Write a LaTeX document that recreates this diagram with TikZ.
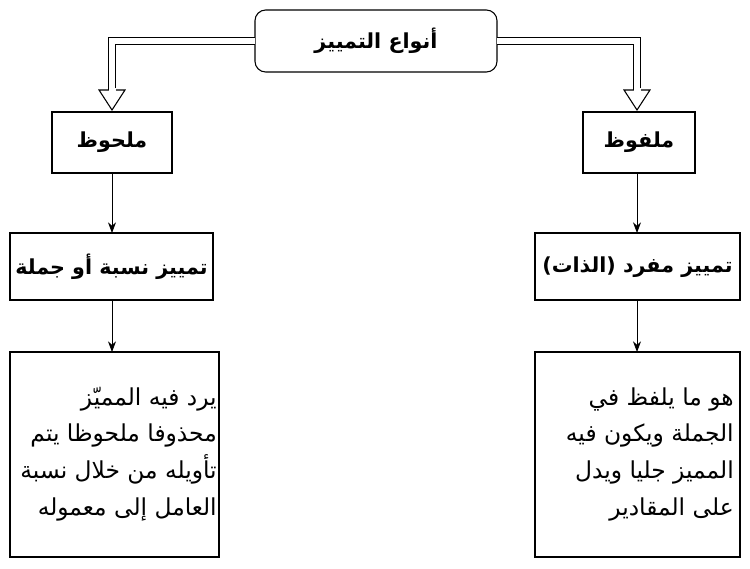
\documentclass[tikz,border=0pt]{standalone}
\usepackage{fontspec}
\newfontfamily\arabicfont[Script=Arabic]{DejaVu Sans}
\TeXXeTstate=1
\usetikzlibrary{arrows.meta}
\begin{document}
\begin{tikzpicture}[x=0.75pt,y=-0.75pt,
  box/.style={draw,line width=0.8pt,inner sep=0pt},
  ttl/.style={font=\arabicfont\bfseries\fontsize{15.5}{18}\selectfont},
  body/.style={font=\arabicfont\fontsize{17.5}{27.5}\selectfont,align=right,anchor=north east,inner sep=0pt},
  dbl/.style={double,double distance=4pt,line width=0.8pt},
  hollow/.style={draw,fill=white,line width=0.8pt},
  sarr/.style={-{Stealth[length=8pt,width=6pt]},line width=0.6pt}]
\useasboundingbox (0,0) rectangle (750,568);
% top
\draw[box,rounded corners=8pt] (255,10) rectangle (497,72);
\node[ttl] (top) at (376,41) {\beginR أنواع التمييز\endR};
% level 1
\draw[box] (52,112) rectangle (172,173); \node[ttl] (l1) at (112,142) {\beginR ملحوظ\endR};
\draw[box] (583,112) rectangle (695,173); \node[ttl] (r1) at (639,142) {\beginR ملفوظ\endR};
% double arrows
\draw[dbl] (255,41) -- (112,41) -- (112,90);
\draw[hollow] (99,90) -- (125,90) -- (112,110) -- cycle;
\draw[fill=white,draw=none] (108.5,88) rectangle (115.5,91);
\draw[dbl] (497,41) -- (637,41) -- (637,90);
\draw[hollow] (624,90) -- (650,90) -- (637,110) -- cycle;
\draw[fill=white,draw=none] (633.5,88) rectangle (640.5,91);
% level 2
\draw[box] (10,233) rectangle (213,300); \node[ttl] (l2) at (111.5,267) {\beginR تمييز نسبة أو جملة\endR};
\draw[box] (535,233) rectangle (740,300); \node[ttl] (r2) at (637.5,267) {\beginR تمييز مفرد (الذات)\endR};
\coordinate (l1b) at (112,173); \coordinate (l2t) at (112,233);
\coordinate (r1b) at (637,173); \coordinate (r2t) at (637,233);
\draw[sarr] (l1b) -- (l2t);
\draw[sarr] (r1b) -- (r2t);
% level 3
\draw[box] (10,352) rectangle (219,557);
\draw[box] (535,352) rectangle (740,557);
\coordinate (l2b) at (112,300); \coordinate (l3t) at (112,352);
\coordinate (r2b) at (637,300); \coordinate (r3t) at (637,352);
\draw[sarr] (l2b) -- (l3t);
\draw[sarr] (r2b) -- (r3t);
\node[body] (l3) at (217,387) {\beginR يرد فيه المميّز\endR\\\beginR محذوفا ملحوظا يتم\endR\\\beginR تأويله من خلال نسبة\endR\\\beginR العامل إلى معموله\endR};
\node[body] (r3) at (734,387) {\beginR هو ما يلفظ في\endR\\\beginR الجملة ويكون فيه\endR\\\beginR المميز جليا ويدل\endR\\\beginR على المقادير\endR};
\end{tikzpicture}
\end{document}
